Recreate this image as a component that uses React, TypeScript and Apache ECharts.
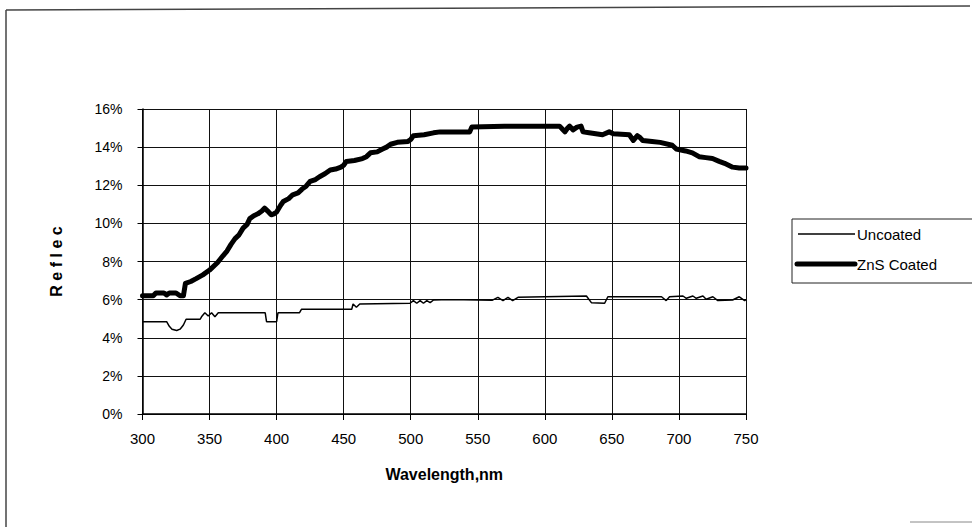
import React, { useEffect, useRef } from "react";
import * as echarts from "echarts";

const xTicks = { min: 300, max: 750, interval: 50 };
const yTicks = { min: 0, max: 16, interval: 2 };

const seriesNames = ["Uncoated", "ZnS Coated"];

const uncoatedWl = [300, 318, 320, 322, 325.5, 328, 330.5, 332.5, 343, 344, 346.5, 349, 351.5, 354, 356.5, 391.5, 392.5, 400, 401, 417, 418.5, 456, 457, 459.5, 462, 499.5, 502, 504.5, 507, 509.5, 512, 514.5, 517, 529, 561, 565, 568.8, 572.5, 576, 580, 600, 631, 634.7, 644.6, 647, 687, 690.5, 693, 703, 705.5, 710.4, 712.9, 717.9, 720.3, 725.3, 729, 740, 745, 749, 750];
const uncoatedR = [4.84, 4.84, 4.6, 4.45, 4.38, 4.45, 4.67, 4.97, 4.97, 5.1, 5.31, 5.14, 5.31, 5.1, 5.31, 5.31, 4.84, 4.84, 5.31, 5.31, 5.49, 5.49, 5.77, 5.6, 5.77, 5.81, 5.95, 5.81, 5.95, 5.81, 5.95, 5.84, 5.98, 6.0, 5.97, 6.12, 5.95, 6.12, 5.95, 6.12, 6.15, 6.19, 5.84, 5.81, 6.15, 6.15, 5.95, 6.15, 6.19, 6.07, 6.19, 6.07, 6.19, 6.02, 6.15, 5.95, 5.98, 6.15, 5.95, 6.0];

const coatedWl = [300, 308, 310, 316, 318, 320, 325, 328, 330.5, 332, 336, 340, 345, 350, 356, 360, 363, 366, 369, 372, 375, 378, 380, 383, 386, 389, 391, 394, 396, 398, 400, 403, 405, 409, 412, 416, 419, 422, 425, 429, 432, 436, 440, 444, 448, 450, 452, 458, 464, 467, 470, 475, 479, 482, 485, 490, 498, 500, 502, 510, 517, 522, 544, 545.5, 570, 590, 611, 613, 615, 617, 618.5, 621, 624, 627, 628.5, 633, 638, 643, 648, 651, 663, 666, 669, 671, 673, 680, 686, 695, 698, 705, 710, 715, 720, 725, 730, 734, 737, 740, 745, 750];
const coatedR = [6.2, 6.2, 6.35, 6.35, 6.25, 6.35, 6.35, 6.2, 6.2, 6.85, 6.95, 7.1, 7.3, 7.55, 7.95, 8.3, 8.55, 8.9, 9.2, 9.4, 9.75, 9.95, 10.25, 10.4, 10.5, 10.65, 10.8, 10.6, 10.45, 10.5, 10.6, 10.95, 11.15, 11.3, 11.5, 11.6, 11.8, 11.95, 12.2, 12.3, 12.45, 12.6, 12.8, 12.85, 12.95, 13.05, 13.25, 13.3, 13.4, 13.5, 13.7, 13.75, 13.9, 14.0, 14.15, 14.25, 14.3, 14.4, 14.6, 14.65, 14.75, 14.8, 14.8, 15.05, 15.1, 15.1, 15.1, 14.95, 14.8, 15.0, 15.1, 14.9, 15.05, 15.1, 14.8, 14.75, 14.7, 14.65, 14.8, 14.7, 14.65, 14.35, 14.6, 14.5, 14.35, 14.3, 14.25, 14.1, 13.9, 13.8, 13.7, 13.5, 13.45, 13.4, 13.25, 13.15, 13.05, 12.95, 12.9, 12.9];

const FONT = "'Liberation Sans', Arial, Helvetica, sans-serif";

export default function App() {
  const ref = useRef<HTMLDivElement>(null);

  useEffect(() => {
    document.body.style.margin = "0";
    const chart = echarts.init(ref.current!, null, { renderer: "svg" });
    const uncoated = uncoatedWl.map((w, i) => [w, uncoatedR[i]]);
    const coated = coatedWl.map((w, i) => [w, coatedR[i]]);

    chart.setOption({
      animation: false,
      backgroundColor: "#ffffff",
      grid: { left: 142.5, right: 226, top: 109, bottom: 115, containLabel: false },
      xAxis: {
        type: "value",
        min: xTicks.min,
        max: xTicks.max,
        interval: xTicks.interval,
        name: "Wavelength,nm",
        nameLocation: "middle",
        nameGap: 52,
        nameTextStyle: { color: "#000", fontFamily: FONT, fontWeight: "bold", fontSize: 16 },
        axisLine: { show: true, lineStyle: { color: "#000", width: 1.5 } },
        axisTick: { show: true, length: 6, lineStyle: { color: "#000", width: 1 } },
        axisLabel: { color: "#000", fontFamily: FONT, fontSize: 15, margin: 17 },
        splitLine: { show: true, lineStyle: { color: "#111", width: 1 } },
      },
      yAxis: {
        type: "value",
        min: yTicks.min,
        max: yTicks.max,
        interval: yTicks.interval,
        name: "R e f l e c",
        nameLocation: "middle",
        nameGap: 78,
        nameTextStyle: { color: "#000", fontFamily: FONT, fontWeight: "bold", fontSize: 16 },
        axisLine: { show: true, lineStyle: { color: "#000", width: 1.5 } },
        axisTick: { show: true, length: 5, lineStyle: { color: "#000", width: 1 } },
        axisLabel: { color: "#000", fontFamily: FONT, fontSize: 14, margin: 20, formatter: (v: number) => `${v}%` },
        splitLine: { show: true, lineStyle: { color: "#111", width: 1 } },
      },
      series: [
        {
          name: seriesNames[0],
          type: "line",
          data: uncoated,
          showSymbol: false,
          lineStyle: { color: "#000", width: 1.5 },
          z: 3,
        },
        {
          name: seriesNames[1],
          type: "line",
          data: coated,
          showSymbol: false,
          lineStyle: { color: "#000", width: 5, cap: "round", join: "round" },
          z: 4,
        },
      ],
      graphic: [
        { type: "line", shape: { x1: 6, y1: 10, x2: 970, y2: 6 }, style: { stroke: "#444", lineWidth: 1.5 } },
        { type: "line", shape: { x1: 6, y1: 10, x2: 6, y2: 527 }, style: { stroke: "#444", lineWidth: 1.5 } },
        { type: "line", shape: { x1: 910, y1: 522, x2: 972, y2: 522 }, style: { stroke: "#888", lineWidth: 1 } },
        { type: "rect", shape: { x: 792, y: 219, width: 190, height: 64 }, style: { fill: "#fff", stroke: "#222", lineWidth: 1 } },
        { type: "line", shape: { x1: 798, y1: 234, x2: 855, y2: 234 }, style: { stroke: "#000", lineWidth: 1.5 } },
        { type: "text", x: 857, y: 234, style: { text: seriesNames[0], fill: "#000", font: `15px ${FONT}`, verticalAlign: "middle", align: "left" } },
        { type: "line", shape: { x1: 797, y1: 264, x2: 855, y2: 264 }, style: { stroke: "#000", lineWidth: 5, lineCap: "round" } },
        { type: "text", x: 857, y: 264, style: { text: seriesNames[1], fill: "#000", font: `15px ${FONT}`, verticalAlign: "middle", align: "left" } },
      ],
    });
    return () => chart.dispose();
  }, []);

  return <div ref={ref} style={{ width: 972, height: 529 }} />;
}
